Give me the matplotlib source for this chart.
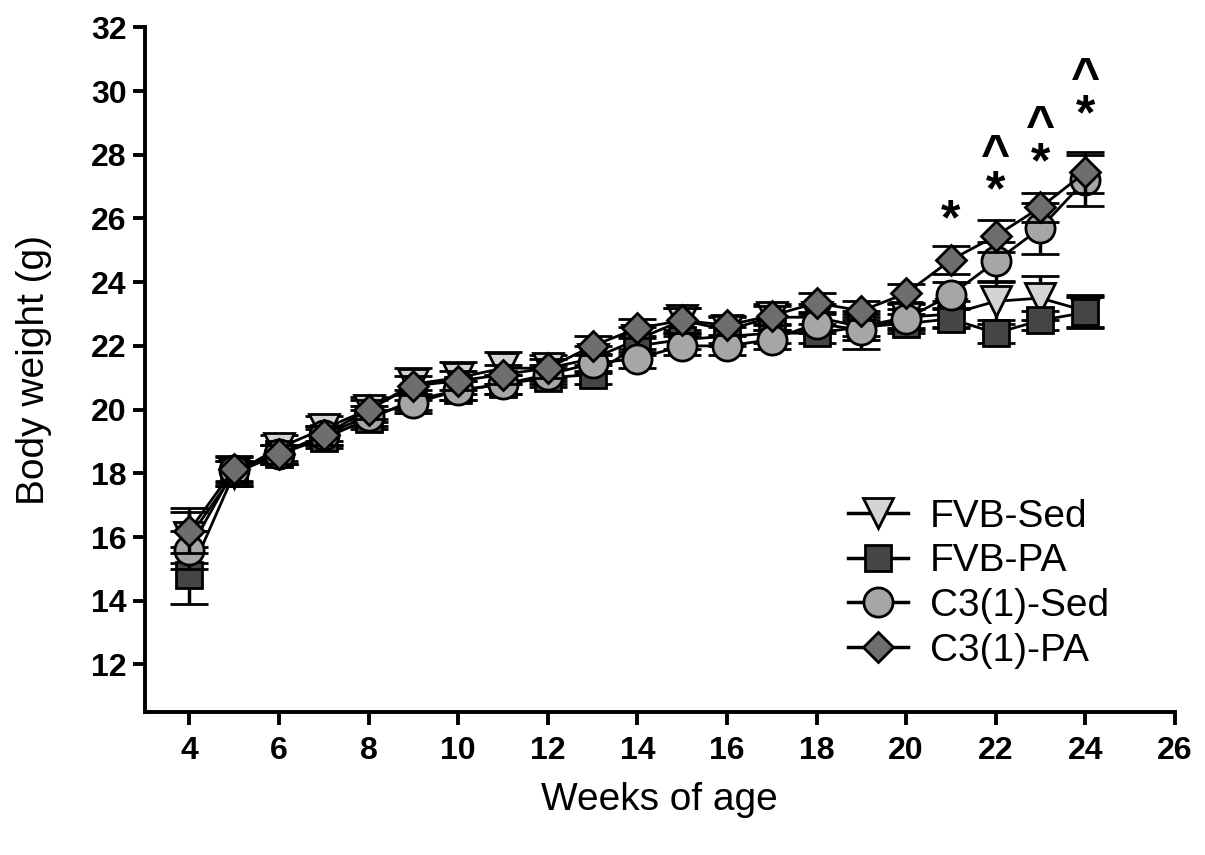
import matplotlib
matplotlib.use("Agg")
import matplotlib.pyplot as plt
from matplotlib.lines import Line2D

plt.rcParams['font.family'] = ['Liberation Sans', 'DejaVu Sans']

weeks = list(range(4, 25))

fvb_sed = [16.0, 18.0, 18.8, 19.4, 20.0, 20.8, 21.0, 21.3, 21.3, 21.6, 22.2, 22.8, 22.5,
           22.9, 22.9, 22.6, 22.9, 23.0, 23.4, 23.5, 23.1]
fvb_sed_err = [0.8, 0.4, 0.4, 0.4, 0.4, 0.5, 0.5, 0.5, 0.4, 0.4, 0.4, 0.4, 0.4,
               0.4, 0.4, 0.4, 0.4, 0.4, 0.6, 0.7, 0.5]

fvb_pa = [14.8, 18.0, 18.6, 19.1, 19.7, 20.3, 20.6, 20.8, 21.0, 21.1, 22.0, 22.2, 22.3,
          22.4, 22.4, 22.6, 22.7, 22.85, 22.4, 22.8, 23.05]
fvb_pa_err = [0.9, 0.4, 0.3, 0.3, 0.3, 0.3, 0.3, 0.3, 0.3, 0.3, 0.3, 0.3, 0.3,
              0.3, 0.3, 0.3, 0.3, 0.3, 0.3, 0.3, 0.5]

c3_sed = [15.6, 18.1, 18.6, 19.2, 19.8, 20.2, 20.6, 20.8, 21.1, 21.45, 21.6, 22.0, 22.0,
          22.2, 22.7, 22.5, 22.85, 23.6, 24.65, 25.7, 27.2]
c3_sed_err = [0.6, 0.4, 0.3, 0.3, 0.3, 0.3, 0.3, 0.3, 0.3, 0.3, 0.3, 0.3, 0.3,
              0.3, 0.3, 0.6, 0.3, 0.4, 0.6, 0.8, 0.8]

c3_pa = [16.2, 18.15, 18.6, 19.2, 20.0, 20.75, 20.9, 21.1, 21.3, 22.0, 22.55, 22.8, 22.65,
         22.95, 23.35, 23.1, 23.65, 24.7, 25.45, 26.35, 27.45]
c3_pa_err = [0.7, 0.4, 0.3, 0.3, 0.3, 0.3, 0.3, 0.3, 0.3, 0.3, 0.3, 0.4, 0.3,
             0.3, 0.3, 0.3, 0.3, 0.45, 0.5, 0.45, 0.65]

sig_weeks = [21, 22, 23, 24]
sig_labels = ['*', '^\n*', '^\n*', '^\n*']
sig_star_y = [26.1, 27.0, 27.9, 29.4]

x_ticks = [4, 6, 8, 10, 12, 14, 16, 18, 20, 22, 24, 26]
y_ticks = [12, 14, 16, 18, 20, 22, 24, 26, 28, 30, 32]

fig = plt.figure(figsize=(12.05, 8.55), dpi=100)
ax = fig.add_axes([0.120, 0.167, 0.855, 0.801])

series = [
    ("FVB-Sed", fvb_sed, fvb_sed_err, 'v', '#d4d4d4', 21),
    ("FVB-PA", fvb_pa, fvb_pa_err, 's', '#454545', 19),
    ("C3(1)-Sed", c3_sed, c3_sed_err, 'o', '#a6a6a6', 21),
    ("C3(1)-PA", c3_pa, c3_pa_err, 'D', '#6e6e6e', 15.5),
]

handles = []
for i, (lab, vals, err, mk, col, ms) in enumerate(series):
    ax.errorbar(weeks, vals, yerr=err, fmt='-', color='black', lw=2,
                marker=mk, markersize=ms, markerfacecolor=col,
                markeredgecolor='black', markeredgewidth=2,
                ecolor='black', elinewidth=2.5, capsize=14, capthick=2.5,
                zorder=3 + i)
    handles.append(Line2D([0], [0], color='black', lw=2.5, marker=mk, markersize=ms,
                          markerfacecolor=col, markeredgecolor='black',
                          markeredgewidth=2, label=lab))

# significance marks: anchor each label so that the "*" sits at the given y
for w, lab, y in zip(sig_weeks, sig_labels, sig_star_y):
    ax.annotate(lab, xy=(w, y), xytext=(0, -21), textcoords='offset points',
                ha='center', va='bottom', fontsize=36, fontweight='bold',
                linespacing=0.72, multialignment='center')

ax.set_xlim(3, 26)
ax.set_ylim(10.5, 32)
ax.set_xticks(x_ticks)
ax.set_yticks(y_ticks)
ax.tick_params(axis='both', direction='out', length=9, width=2.8, labelsize=23, pad=4)
for lbl in ax.get_xticklabels() + ax.get_yticklabels():
    lbl.set_fontweight('bold')
ax.tick_params(axis='x', pad=8)
for s in ['top', 'right']:
    ax.spines[s].set_visible(False)
for s in ['left', 'bottom']:
    ax.spines[s].set_linewidth(2.8)

ax.set_xlabel('Weeks of age', fontsize=28, labelpad=12)
ax.set_ylabel('Body weight (g)', fontsize=28, labelpad=28)

leg = ax.legend(handles=handles, loc='lower right', bbox_to_anchor=(0.951, 0.041),
                frameon=False, fontsize=28, handlelength=1.55, handletextpad=0.55,
                labelspacing=0.22, borderaxespad=0)

fig.savefig('out.png', dpi=100)
